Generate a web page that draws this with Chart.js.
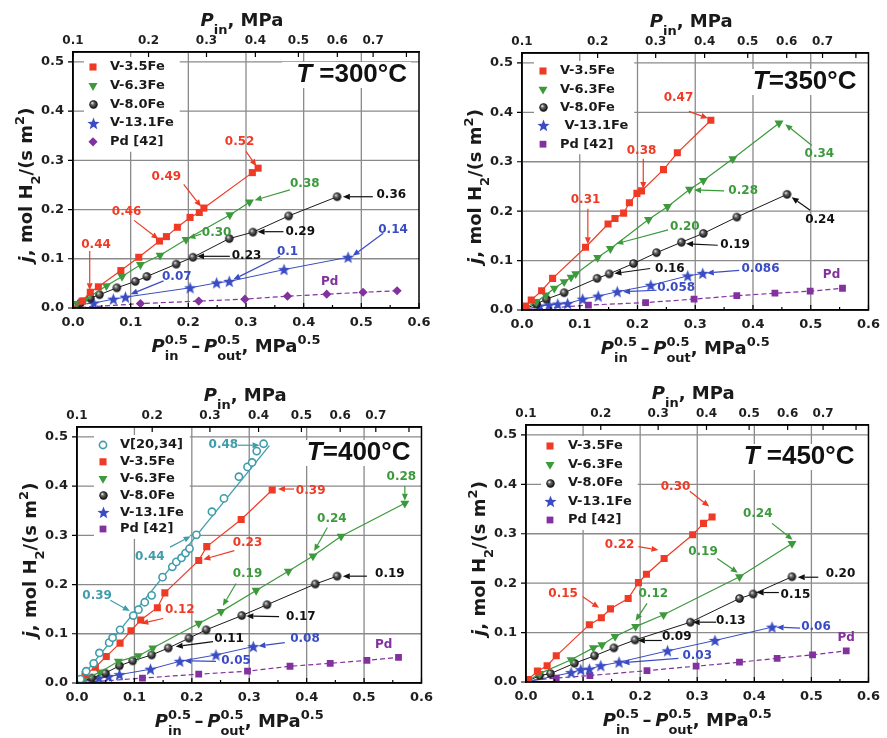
<!DOCTYPE html>
<html><head><meta charset="utf-8">
<script src="https://cdn.jsdelivr.net/npm/chart.js@4.4.1/dist/chart.umd.min.js"></script>
<style>
html,body{margin:0;padding:0;background:#fff}
body{width:887px;height:738px;position:relative;overflow:hidden}
canvas{position:absolute;display:block}
</style></head><body>
<canvas id="c300" width="440" height="369" style="left:0;top:0"></canvas>
<canvas id="c350" width="447" height="369" style="left:440px;top:0"></canvas>
<canvas id="c400" width="440" height="369" style="left:0;top:369px"></canvas>
<canvas id="c450" width="447" height="369" style="left:440px;top:369px"></canvas>
<script>
// ---------- axes / ticks ----------
const xTicks = [0, 0.1, 0.2, 0.3, 0.4, 0.5, 0.6];
const yTicks = [0, 0.1, 0.2, 0.3, 0.4, 0.5];
const pinTicks = [0.1, 0.2, 0.3, 0.4, 0.5, 0.6, 0.7];
const pinTickMarks = [0.1, 0.2, 0.3, 0.4, 0.5, 0.6, 0.7, 0.8];
const pOut = 0.1;

// ---------- 300 °C ----------
const t300_V35_x = [0.016,0.030,0.044,0.083,0.114,0.150,0.162,0.181,0.203,0.219,0.227,0.311,0.321];
const t300_V35_y = [0.014,0.032,0.043,0.076,0.103,0.136,0.145,0.164,0.184,0.194,0.203,0.275,0.284];
const t300_V63_x = [0.007,0.020,0.058,0.085,0.117,0.151,0.196,0.272,0.306];
const t300_V63_y = [0.009,0.016,0.045,0.064,0.088,0.107,0.139,0.189,0.215];
const t300_V80_x = [0.013,0.030,0.046,0.076,0.108,0.128,0.179,0.208,0.271,0.312,0.374,0.458];
const t300_V80_y = [0.010,0.020,0.027,0.041,0.054,0.064,0.089,0.103,0.141,0.154,0.187,0.226];
const t300_V131_x = [0.010,0.036,0.070,0.091,0.203,0.249,0.271,0.366,0.477];
const t300_V131_y = [0.007,0.010,0.018,0.022,0.041,0.051,0.054,0.078,0.103];
const t300_Pd_x = [0.117,0.218,0.298,0.372,0.440,0.503,0.562];
const t300_Pd_y = [0.009,0.014,0.018,0.024,0.028,0.032,0.035];
const t300_notes = [
  ['0.44','r',0.040,0.128, 0.029,0.116, 0.029,0.036],
  ['0.46','r',0.093,0.196, 0.106,0.178, 0.148,0.140],
  ['0.49','r',0.162,0.267, 0.192,0.251, 0.222,0.206],
  ['0.52','r',0.289,0.338, 0.300,0.318, 0.318,0.288],
  ['0.38','g',0.402,0.253, 0.376,0.240, 0.315,0.219],
  ['0.30','g',0.249,0.152, 0.222,0.150, 0.200,0.142],
  ['0.36','k',0.552,0.230, 0.520,0.226, 0.468,0.226],
  ['0.29','k',0.394,0.155, 0.365,0.155, 0.320,0.155],
  ['0.23','k',0.301,0.105, 0.272,0.105, 0.215,0.105],
  ['0.1','b',0.372,0.115, 0.359,0.105, 0.278,0.058],
  ['0.14','b',0.555,0.159, 0.538,0.152, 0.485,0.106],
  ['0.07','b',0.180,0.064, 0.157,0.055, 0.100,0.028],
  ['Pd','p',0.445,0.054]
];

// ---------- 350 °C ----------
const t350_V35_x = [0.006,0.016,0.034,0.053,0.110,0.149,0.161,0.176,0.186,0.199,0.207,0.245,0.269,0.327];
const t350_V35_y = [0.008,0.020,0.039,0.064,0.127,0.174,0.185,0.196,0.217,0.236,0.241,0.284,0.318,0.384];
const t350_V63_x = [0.025,0.041,0.056,0.073,0.085,0.093,0.131,0.153,0.219,0.252,0.290,0.314,0.365,0.445];
const t350_V63_y = [0.017,0.030,0.044,0.057,0.066,0.073,0.106,0.124,0.183,0.209,0.244,0.262,0.306,0.378];
const t350_V80_x = [0.025,0.042,0.073,0.130,0.151,0.193,0.233,0.276,0.314,0.372,0.459];
const t350_V80_y = [0.012,0.022,0.035,0.064,0.073,0.094,0.116,0.137,0.155,0.188,0.234];
const t350_V131_x = [0.030,0.047,0.062,0.079,0.105,0.132,0.165,0.223,0.287,0.313];
const t350_V131_y = [0.008,0.010,0.012,0.013,0.022,0.028,0.037,0.050,0.069,0.074];
const t350_Pd_x = [0.115,0.214,0.298,0.372,0.438,0.499,0.555];
const t350_Pd_y = [0.010,0.015,0.022,0.029,0.034,0.038,0.044];
const t350_notes = [
  ['0.47','r',0.271,0.429, 0.289,0.402, 0.322,0.388],
  ['0.38','r',0.207,0.322, 0.210,0.306, 0.210,0.245],
  ['0.31','r',0.110,0.222, 0.114,0.205, 0.114,0.133],
  ['0.34','g',0.515,0.316, 0.502,0.333, 0.456,0.376],
  ['0.28','g',0.383,0.241, 0.350,0.241, 0.298,0.243],
  ['0.20','g',0.282,0.168, 0.253,0.162, 0.163,0.134],
  ['0.24','k',0.516,0.182, 0.499,0.202, 0.467,0.228],
  ['0.19','k',0.369,0.131, 0.339,0.131, 0.284,0.134],
  ['0.16','k',0.256,0.084, 0.222,0.084, 0.160,0.074],
  ['0.086','b',0.413,0.084, 0.376,0.080, 0.320,0.075],
  ['0.058','b',0.267,0.044, 0.233,0.040, 0.175,0.037],
  ['Pd','p',0.536,0.071]
];

// ---------- 400 °C ----------
const t400_V_x = [0.006,0.016,0.029,0.039,0.056,0.062,0.075,0.098,0.107,0.118,0.130,0.149,0.166,0.173,0.182,0.189,0.196,0.208,0.235,0.256,0.282,0.297,0.305,0.313,0.325];
const t400_V_y = [0.008,0.024,0.040,0.061,0.082,0.092,0.108,0.137,0.149,0.164,0.178,0.215,0.236,0.246,0.254,0.264,0.273,0.301,0.348,0.375,0.419,0.439,0.448,0.471,0.486];
const t400_Vfit_x = [0, 0.335];
const t400_Vfit_y = [0, 0.482];
const t400_V35_x = [0.014,0.032,0.051,0.075,0.094,0.111,0.140,0.153,0.212,0.226,0.286,0.340];
const t400_V35_y = [0.017,0.032,0.054,0.081,0.106,0.128,0.153,0.183,0.249,0.277,0.332,0.392];
const t400_V63_x = [0.012,0.040,0.072,0.107,0.132,0.212,0.251,0.312,0.368,0.411,0.460,0.571];
const t400_V63_y = [0.007,0.022,0.044,0.055,0.071,0.121,0.145,0.188,0.227,0.258,0.298,0.365];
const t400_V80_x = [0.026,0.049,0.074,0.097,0.130,0.159,0.195,0.225,0.287,0.331,0.415,0.453];
const t400_V80_y = [0.010,0.020,0.035,0.045,0.057,0.071,0.091,0.108,0.137,0.159,0.201,0.217];
const t400_V131_x = [0.038,0.055,0.074,0.128,0.179,0.242,0.307];
const t400_V131_y = [0.010,0.013,0.017,0.028,0.044,0.057,0.074];
const t400_Pd_x = [0.114,0.212,0.297,0.371,0.441,0.505,0.560];
const t400_Pd_y = [0.010,0.018,0.024,0.034,0.040,0.046,0.052];
const t400_notes = [
  ['0.48','t',0.255,0.483, 0.280,0.483, 0.318,0.483],
  ['0.44','t',0.127,0.256, 0.162,0.276, 0.198,0.298],
  ['0.39','t',0.035,0.177, 0.058,0.168, 0.092,0.146],
  ['0.39','r',0.407,0.390, 0.378,0.394, 0.350,0.394],
  ['0.23','r',0.297,0.284, 0.274,0.269, 0.220,0.251],
  ['0.12','r',0.179,0.149, 0.150,0.131, 0.112,0.121],
  ['0.28','g',0.565,0.419, 0.571,0.400, 0.571,0.370],
  ['0.24','g',0.444,0.333, 0.436,0.316, 0.413,0.268],
  ['0.19','g',0.297,0.222, 0.277,0.202, 0.254,0.157],
  ['0.19','k',0.545,0.221, 0.505,0.217, 0.463,0.217],
  ['0.17','k',0.390,0.135, 0.352,0.135, 0.295,0.136],
  ['0.11','k',0.265,0.089, 0.237,0.084, 0.172,0.074],
  ['0.08','b',0.397,0.089, 0.362,0.082, 0.316,0.075],
  ['0.05','b',0.277,0.044, 0.242,0.044, 0.187,0.045],
  ['Pd','p',0.534,0.077]
];

// ---------- 450 °C ----------
const t450_V35_x = [0.004,0.020,0.037,0.053,0.111,0.132,0.148,0.179,0.197,0.211,0.242,0.292,0.311,0.326];
const t450_V35_y = [0.005,0.022,0.033,0.053,0.116,0.130,0.148,0.169,0.201,0.218,0.250,0.298,0.321,0.334];
const t450_V63_x = [0.024,0.079,0.118,0.133,0.156,0.192,0.241,0.374,0.466];
const t450_V63_y = [0.017,0.045,0.069,0.075,0.092,0.112,0.136,0.213,0.280];
const t450_V80_x = [0.024,0.043,0.085,0.120,0.154,0.191,0.288,0.374,0.398,0.466];
const t450_V80_y = [0.013,0.017,0.038,0.053,0.069,0.085,0.121,0.169,0.178,0.213];
const t450_V131_x = [0.079,0.096,0.111,0.131,0.163,0.248,0.331,0.431];
const t450_V131_y = [0.019,0.025,0.026,0.033,0.040,0.063,0.084,0.111];
const t450_Pd_x = [0.004,0.053,0.112,0.212,0.298,0.374,0.440,0.502,0.561];
const t450_Pd_y = [0.003,0.008,0.013,0.023,0.032,0.040,0.048,0.055,0.063];
const t450_notes = [
  ['0.30','r',0.262,0.395, 0.287,0.386, 0.321,0.355],
  ['0.22','r',0.164,0.277, 0.197,0.274, 0.232,0.267],
  ['0.15','r',0.065,0.178, 0.099,0.173, 0.128,0.150],
  ['0.24','g',0.406,0.341, 0.431,0.321, 0.467,0.288],
  ['0.19','g',0.310,0.263, 0.335,0.250, 0.371,0.221],
  ['0.12','g',0.223,0.178, 0.212,0.159, 0.192,0.124],
  ['0.20','k',0.551,0.218, 0.512,0.212, 0.476,0.212],
  ['0.15','k',0.472,0.176, 0.443,0.181, 0.404,0.181],
  ['0.13','k',0.359,0.124, 0.333,0.121, 0.292,0.121],
  ['0.09','k',0.264,0.092, 0.238,0.084, 0.196,0.084],
  ['0.06','b',0.508,0.112, 0.480,0.109, 0.439,0.111],
  ['0.03','b',0.300,0.053, 0.267,0.048, 0.169,0.039],
  ['Pd','p',0.561,0.089]
];

// ---------- styling ----------
const FONT = '"DejaVu Sans", sans-serif';
const RED = '#ef3b26', GREEN = '#3c9a3c', BLACK = '#1a1a1a', BLUE = '#3a4cc4', PURPLE = '#82319e', TEAL = '#3f9caa';
const GRID = '#8a8a8a';
const NOTE_COLORS = {r: RED, g: GREEN, k: '#111', b: BLUE, p: PURPLE, t: TEAL};

function sphereImg(r) {
  const c = document.createElement('canvas');
  const s = Math.ceil(2 * r + 2); c.width = s; c.height = s;
  const g = c.getContext('2d'); const cx = s / 2, cy = s / 2;
  const gr = g.createRadialGradient(cx - r * 0.35, cy - r * 0.4, r * 0.05, cx, cy, r);
  gr.addColorStop(0, '#f4f4f4'); gr.addColorStop(0.35, '#6a6a6a'); gr.addColorStop(1, '#050505');
  g.fillStyle = gr; g.beginPath(); g.arc(cx, cy, r, 0, 2 * Math.PI); g.fill();
  return c;
}
function starImg(r, color) {
  const c = document.createElement('canvas');
  const s = Math.ceil(2 * r + 2); c.width = s; c.height = s;
  const g = c.getContext('2d'); const cx = s / 2, cy = s / 2 + r * 0.08;
  g.fillStyle = color; g.beginPath();
  for (let i = 0; i < 10; i++) {
    const rr = i % 2 ? r * 0.42 : r;
    const a = -Math.PI / 2 + i * Math.PI / 5;
    const px = cx + rr * Math.cos(a), py = cy + rr * Math.sin(a);
    i ? g.lineTo(px, py) : g.moveTo(px, py);
  }
  g.closePath(); g.fill();
  return c;
}

const ST = {
  v35: {pointStyle: 'rect', radius: 5, backgroundColor: RED, borderColor: RED, borderWidth: 0},
  v63: {pointStyle: 'triangle', rotation: 180, radius: 5.2, backgroundColor: GREEN, borderColor: GREEN, borderWidth: 0},
  v80: {pointStyle: sphereImg(4.2), radius: 4.2},
  v131: {pointStyle: starImg(6.4, BLUE), radius: 6},
  pdD: {pointStyle: 'rectRot', radius: 4.6, backgroundColor: PURPLE, borderColor: PURPLE, borderWidth: 0},
  pdS: {pointStyle: 'rect', radius: 4.8, backgroundColor: PURPLE, borderColor: PURPLE, borderWidth: 0},
  v: {pointStyle: 'circle', radius: 3.6, backgroundColor: '#fff', borderColor: TEAL, borderWidth: 1.6}
};

function drawMarker(ctx, st, x, y) {
  const ps = st.pointStyle;
  ctx.save();
  if (ps instanceof HTMLCanvasElement) {
    ctx.drawImage(ps, Math.round(x - ps.width / 2), Math.round(y - ps.height / 2));
    ctx.restore(); return;
  }
  const r = st.radius;
  ctx.fillStyle = st.backgroundColor; ctx.strokeStyle = st.borderColor; ctx.lineWidth = st.borderWidth || 1;
  ctx.beginPath();
  if (ps === 'rect') { const s = Math.SQRT1_2 * r; ctx.rect(x - s, y - s, 2 * s, 2 * s); }
  else if (ps === 'rectRot') { ctx.moveTo(x, y - r); ctx.lineTo(x + r, y); ctx.lineTo(x, y + r); ctx.lineTo(x - r, y); ctx.closePath(); }
  else if (ps === 'triangle') {
    let a = (st.rotation || 0) * Math.PI / 180;
    for (let i = 0; i < 3; i++) {
      const px = x + Math.sin(a) * r, py = y - Math.cos(a) * r;
      i ? ctx.lineTo(px, py) : ctx.moveTo(px, py);
      a += 2 * Math.PI / 3;
    }
    ctx.closePath();
  } else { ctx.arc(x, y, r, 0, 2 * Math.PI); }
  ctx.fill();
  if (st.borderWidth) ctx.stroke();
  ctx.restore();
}

function arrow(ctx, x1, y1, x2, y2, color) {
  ctx.save(); ctx.strokeStyle = color; ctx.fillStyle = color; ctx.lineWidth = 1.2;
  const a = Math.atan2(y2 - y1, x2 - x1), L = 7, W = 3;
  const bx = x2 - L * Math.cos(a), by = y2 - L * Math.sin(a);
  ctx.beginPath(); ctx.moveTo(x1, y1); ctx.lineTo(bx, by); ctx.stroke();
  ctx.beginPath(); ctx.moveTo(x2, y2);
  ctx.lineTo(bx - W * Math.sin(a), by + W * Math.cos(a));
  ctx.lineTo(bx + W * Math.sin(a), by - W * Math.cos(a));
  ctx.closePath(); ctx.fill();
  ctx.restore();
}

function richLayout(ctx, segs, size) {
  const small = Math.round(size * 0.72);
  let x = 0, prevStart = 0; const items = [];
  for (const s of segs) {
    const fs = (s.sub || s.sup) ? small : size;
    const font = (s.it ? 'italic ' : '') + 'bold ' + fs + 'px ' + FONT;
    ctx.font = font; const w = ctx.measureText(s.t).width;
    const sx = s.stack ? prevStart : x;
    if (!s.stack) prevStart = sx;
    const dy = s.sub ? size * 0.42 : s.sup ? -size * 0.45 : 0;
    items.push({t: s.t, font, x: sx, dy});
    x = Math.max(x, sx + w);
  }
  return {items, width: x};
}
function drawRich(ctx, segs, size, cx, cy, color, rot) {
  ctx.save();
  ctx.translate(cx, cy); if (rot) ctx.rotate(rot);
  const L = richLayout(ctx, segs, size);
  ctx.fillStyle = color; ctx.textBaseline = 'alphabetic'; ctx.textAlign = 'left';
  const x0 = -L.width / 2, base = size * 0.36;
  for (const it of L.items) { ctx.font = it.font; ctx.fillText(it.t, x0 + it.x, base + it.dy); }
  ctx.restore();
}

const TOP_TITLE = [{t: 'P', it: 1}, {t: 'in', sub: 1}, {t: ', MPa'}];
const BOTTOM_TITLE = [{t: 'P', it: 1}, {t: 'in', sub: 1}, {t: '0.5', sup: 1, stack: 1}, {t: '\u2009\u2013\u2009'},
  {t: 'P', it: 1}, {t: 'out', sub: 1}, {t: '0.5', sup: 1, stack: 1}, {t: ', MPa'}, {t: '0.5', sup: 1}];
const Y_TITLE = [{t: 'j', it: 1}, {t: ', mol H'}, {t: '2', sub: 1}, {t: '/(s m'}, {t: '2', sup: 1}, {t: ')'}];

function buildDatasets(series) {
  return series.map(s => {
    const pts = s.x.map((v, i) => ({x: v, y: s.y[i]}));
    const data = s.origin ? [{x: 0, y: 0}].concat(pts) : pts;
    const st = s.st || {pointStyle: 'circle', radius: 0};
    return {
      label: s.label || '',
      data,
      showLine: !s.noLine,
      borderColor: s.color,
      borderWidth: s.lw || 1.2,
      borderDash: s.dash || [],
      pointStyle: st.pointStyle,
      pointRadius: data.map((_, i) => (s.origin && i === 0) ? 0 : st.radius),
      pointRotation: st.rotation || 0,
      pointBackgroundColor: st.backgroundColor || s.color,
      pointBorderColor: st.borderColor || s.color,
      pointBorderWidth: st.borderWidth || 0,
      fill: false, tension: 0
    };
  });
}

function makePanel(id, cfg) {
  const legendItems = cfg.series.filter(s => s.label);
  const plugin = {
    id: 'deco',
    beforeDatasetsDraw(chart) {
      const {ctx, chartArea: a, scales} = chart; const L = cfg.legend;
      ctx.save();
      // grid
      ctx.strokeStyle = GRID; ctx.lineWidth = 1.3; ctx.beginPath();
      xTicks.slice(1, -1).forEach(v => {
        const px = scales.x.getPixelForValue(v);
        ctx.moveTo(px, a.top); ctx.lineTo(px, a.bottom);
      });
      yTicks.slice(1).forEach(v => {
        const py = scales.y.getPixelForValue(v);
        ctx.moveTo(a.left, py); ctx.lineTo(a.right, py);
      });
      ctx.stroke();
      // white boxes behind legend and title
      ctx.fillStyle = '#fff';
      ctx.font = 'bold 13px ' + FONT;
      const mw = Math.max(...legendItems.map(s => ctx.measureText(s.label).width));
      ctx.fillRect(a.left + L.mx - 9, a.top + L.y0 - 10, L.tx - L.mx + 9 + mw + 6, (legendItems.length - 1) * L.dy + 20);
      ctx.font = 'bold 26px "Liberation Sans", Arial, sans-serif';
      const tw = ctx.measureText(cfg.title).width + 8;
      ctx.fillRect(a.right + cfg.titlePos[0] - tw - 6, a.top + cfg.titlePos[1] - 13, tw + 10, 26);
      ctx.restore();
    },
    afterDatasetsDraw(chart) {
      const {ctx, chartArea: a, scales} = chart; const xs = scales.x, ys = scales.y, x2 = scales.x2;
      ctx.save();
      // frame
      ctx.strokeStyle = '#000'; ctx.lineWidth = 1.5;
      ctx.strokeRect(a.left, a.top, a.right - a.left, a.bottom - a.top);
      // ticks: bottom inward, left outward, top inward
      ctx.lineWidth = 1.2; ctx.beginPath();
      xTicks.forEach((v, i) => {
        const px = xs.getPixelForValue(v);
        ctx.moveTo(px, a.bottom); ctx.lineTo(px, a.bottom - 5);
        if (i < xTicks.length - 1) { const pm = xs.getPixelForValue((v + xTicks[i + 1]) / 2); ctx.moveTo(pm, a.bottom); ctx.lineTo(pm, a.bottom - 3); }
      });
      yTicks.forEach((v, i) => {
        const py = ys.getPixelForValue(v);
        ctx.moveTo(a.left, py); ctx.lineTo(a.left - 5, py);
      });
      pinTickMarks.forEach(p => {
        const px = x2.getPixelForValue(Math.sqrt(p) - Math.sqrt(pOut));
        ctx.moveTo(px, a.top); ctx.lineTo(px, a.top + 5);
      });
      ctx.stroke();
      // legend
      const L = cfg.legend;
      ctx.font = 'bold 13px ' + FONT; ctx.fillStyle = '#1a1a1a'; ctx.textBaseline = 'middle'; ctx.textAlign = 'left';
      legendItems.forEach((s, i) => {
        const y = a.top + L.y0 + i * L.dy;
        drawMarker(ctx, s.st, a.left + L.mx, y);
        ctx.fillStyle = '#1a1a1a';
        ctx.fillText(s.label, a.left + L.tx, y);
      });
      // title  T = xxx °C
      ctx.font = 'bold 26px "Liberation Sans", Arial, sans-serif';
      const rest = cfg.title.slice(1);
      const wRest = ctx.measureText(rest).width;
      ctx.font = 'italic bold 26px "Liberation Sans", Arial, sans-serif';
      const wT = ctx.measureText('T').width;
      const tx = a.right + cfg.titlePos[0] - wRest - wT, ty = a.top + cfg.titlePos[1];
      ctx.fillStyle = '#111'; ctx.textBaseline = 'middle';
      ctx.fillText('T', tx, ty);
      ctx.font = 'bold 26px "Liberation Sans", Arial, sans-serif';
      ctx.fillText(rest, tx + wT, ty);
      // notes
      ctx.font = 'bold 12px ' + FONT; ctx.textAlign = 'center'; ctx.textBaseline = 'middle';
      cfg.notes.forEach(n => {
        const col = NOTE_COLORS[n[1]];
        if (n.length > 4) arrow(ctx, xs.getPixelForValue(n[4]), ys.getPixelForValue(n[5]), xs.getPixelForValue(n[6]), ys.getPixelForValue(n[7]), col);
        ctx.fillStyle = col;
        ctx.fillText(n[0], xs.getPixelForValue(n[2]), ys.getPixelForValue(n[3]));
      });
      ctx.restore();
    },
    afterDraw(chart) {
      const {ctx, chartArea: a} = chart;
      const cx = (a.left + a.right) / 2;
      drawRich(ctx, TOP_TITLE, 18, cx - 4, a.top - 32, '#1a1a1a');
      drawRich(ctx, BOTTOM_TITLE, 18, cx - 10, a.bottom + 38, '#1a1a1a');
      drawRich(ctx, Y_TITLE, 18, a.left - 47, (a.top + a.bottom) / 2 + 5, '#1a1a1a', -Math.PI / 2);
    }
  };
  const tickFont = {family: FONT, size: 13, weight: 'bold'};
  new Chart(document.getElementById(id), {
    type: 'scatter',
    data: {datasets: buildDatasets(cfg.series)},
    options: {
      responsive: false, animation: false, events: [],
      layout: {padding: {left: 0, right: cfg.rightPad, top: 0, bottom: 0}},
      plugins: {legend: {display: false}, tooltip: {enabled: false}, title: {display: false}},
      scales: {
        x: {
          type: 'linear', position: 'bottom', min: 0, max: 0.6,
          afterBuildTicks: s => { s.ticks = xTicks.map(v => ({value: v})); },
          afterFit: s => { s.height = cfg.bottomH; },
          ticks: {callback: v => v.toFixed(1), font: tickFont, color: '#1f1f1f', padding: 7, maxRotation: 0, autoSkip: false},
          grid: {display: false, drawTicks: false},
          border: {color: '#000', width: 1.5}
        },
        x2: {
          type: 'linear', position: 'top', min: 0, max: 0.6,
          afterBuildTicks: s => { s.ticks = pinTicks.map(p => ({value: Math.sqrt(p) - Math.sqrt(pOut)})); },
          afterFit: s => { s.height = cfg.topH; },
          ticks: {callback: (v, i) => pinTicks[i].toFixed(1), font: {family: FONT, size: 12, weight: 'bold'}, color: '#1f1f1f', padding: 4, maxRotation: 0, autoSkip: false},
          grid: {display: false, drawTicks: false},
          border: {color: '#000', width: 1.5}
        },
        y: {
          type: 'linear', min: 0, max: 0.52,
          afterBuildTicks: s => { s.ticks = yTicks.map(v => ({value: v})); },
          afterFit: s => { s.width = cfg.leftW; },
          ticks: {callback: v => v.toFixed(1), font: tickFont, color: '#1f1f1f', padding: 9, autoSkip: false},
          grid: {display: false, drawTicks: false},
          border: {color: '#000', width: 1.5}
        }
      }
    },
    plugins: [plugin]
  });
}

function stdSeries(V35x, V35y, V63x, V63y, V80x, V80y, V131x, V131y, Pdx, Pdy, pdStyle) {
  return [
    {label: 'V-3.5Fe', x: V35x, y: V35y, st: ST.v35, color: RED, origin: true},
    {label: 'V-6.3Fe', x: V63x, y: V63y, st: ST.v63, color: GREEN, origin: true},
    {label: 'V-8.0Fe', x: V80x, y: V80y, st: ST.v80, color: BLACK, origin: true, lw: 1},
    {label: 'V-13.1Fe', x: V131x, y: V131y, st: ST.v131, color: BLUE, origin: true, lw: 1},
    {label: 'Pd [42]', x: Pdx, y: Pdy, st: pdStyle, color: PURPLE, origin: true, dash: [5, 3], lw: 1.2}
  ];
}

makePanel('c300', {
  leftW: 73, rightPad: 21, topH: 52, bottomH: 61,
  legend: {mx: 20, tx: 37, y0: 15, dy: 18.7},
  title: 'T =300°C', titlePos: [-12, 23],
  series: stdSeries(t300_V35_x, t300_V35_y, t300_V63_x, t300_V63_y, t300_V80_x, t300_V80_y, t300_V131_x, t300_V131_y, t300_Pd_x, t300_Pd_y, ST.pdD),
  notes: t300_notes
});
const s350 = stdSeries(t350_V35_x, t350_V35_y, t350_V63_x, t350_V63_y, t350_V80_x, t350_V80_y, t350_V131_x, t350_V131_y, t350_Pd_x, t350_Pd_y, ST.pdS);
s350[3].label = ' V-13.1Fe';
makePanel('c350', {
  leftW: 82, rightPad: 15, topH: 53, bottomH: 59,
  legend: {mx: 21, tx: 38, y0: 18, dy: 18.3},
  title: 'T=350°C', titlePos: [-12, 29],
  series: s350,
  notes: t350_notes
});
makePanel('c400', {
  leftW: 77, rightPad: 17, topH: 58, bottomH: 55,
  legend: {mx: 26, tx: 43, y0: 18, dy: 16.8},
  title: 'T=400°C', titlePos: [-11, 26],
  series: [{label: 'V[20,34]', x: t400_V_x, y: t400_V_y, st: ST.v, color: TEAL, noLine: true},
           {x: t400_Vfit_x, y: t400_Vfit_y, color: TEAL, lw: 1.3}]
    .concat(stdSeries(t400_V35_x, t400_V35_y, t400_V63_x, t400_V63_y, t400_V80_x, t400_V80_y, t400_V131_x, t400_V131_y, t400_Pd_x, t400_Pd_y, ST.pdS)),
  notes: t400_notes
});
makePanel('c450', {
  leftW: 86, rightPad: 15, topH: 56, bottomH: 56,
  legend: {mx: 24, tx: 42, y0: 21, dy: 18.5},
  title: 'T =450°C', titlePos: [-14, 32],
  series: stdSeries(t450_V35_x, t450_V35_y, t450_V63_x, t450_V63_y, t450_V80_x, t450_V80_y, t450_V131_x, t450_V131_y, t450_Pd_x, t450_Pd_y, ST.pdS),
  notes: t450_notes
});
</script>
</body></html>
